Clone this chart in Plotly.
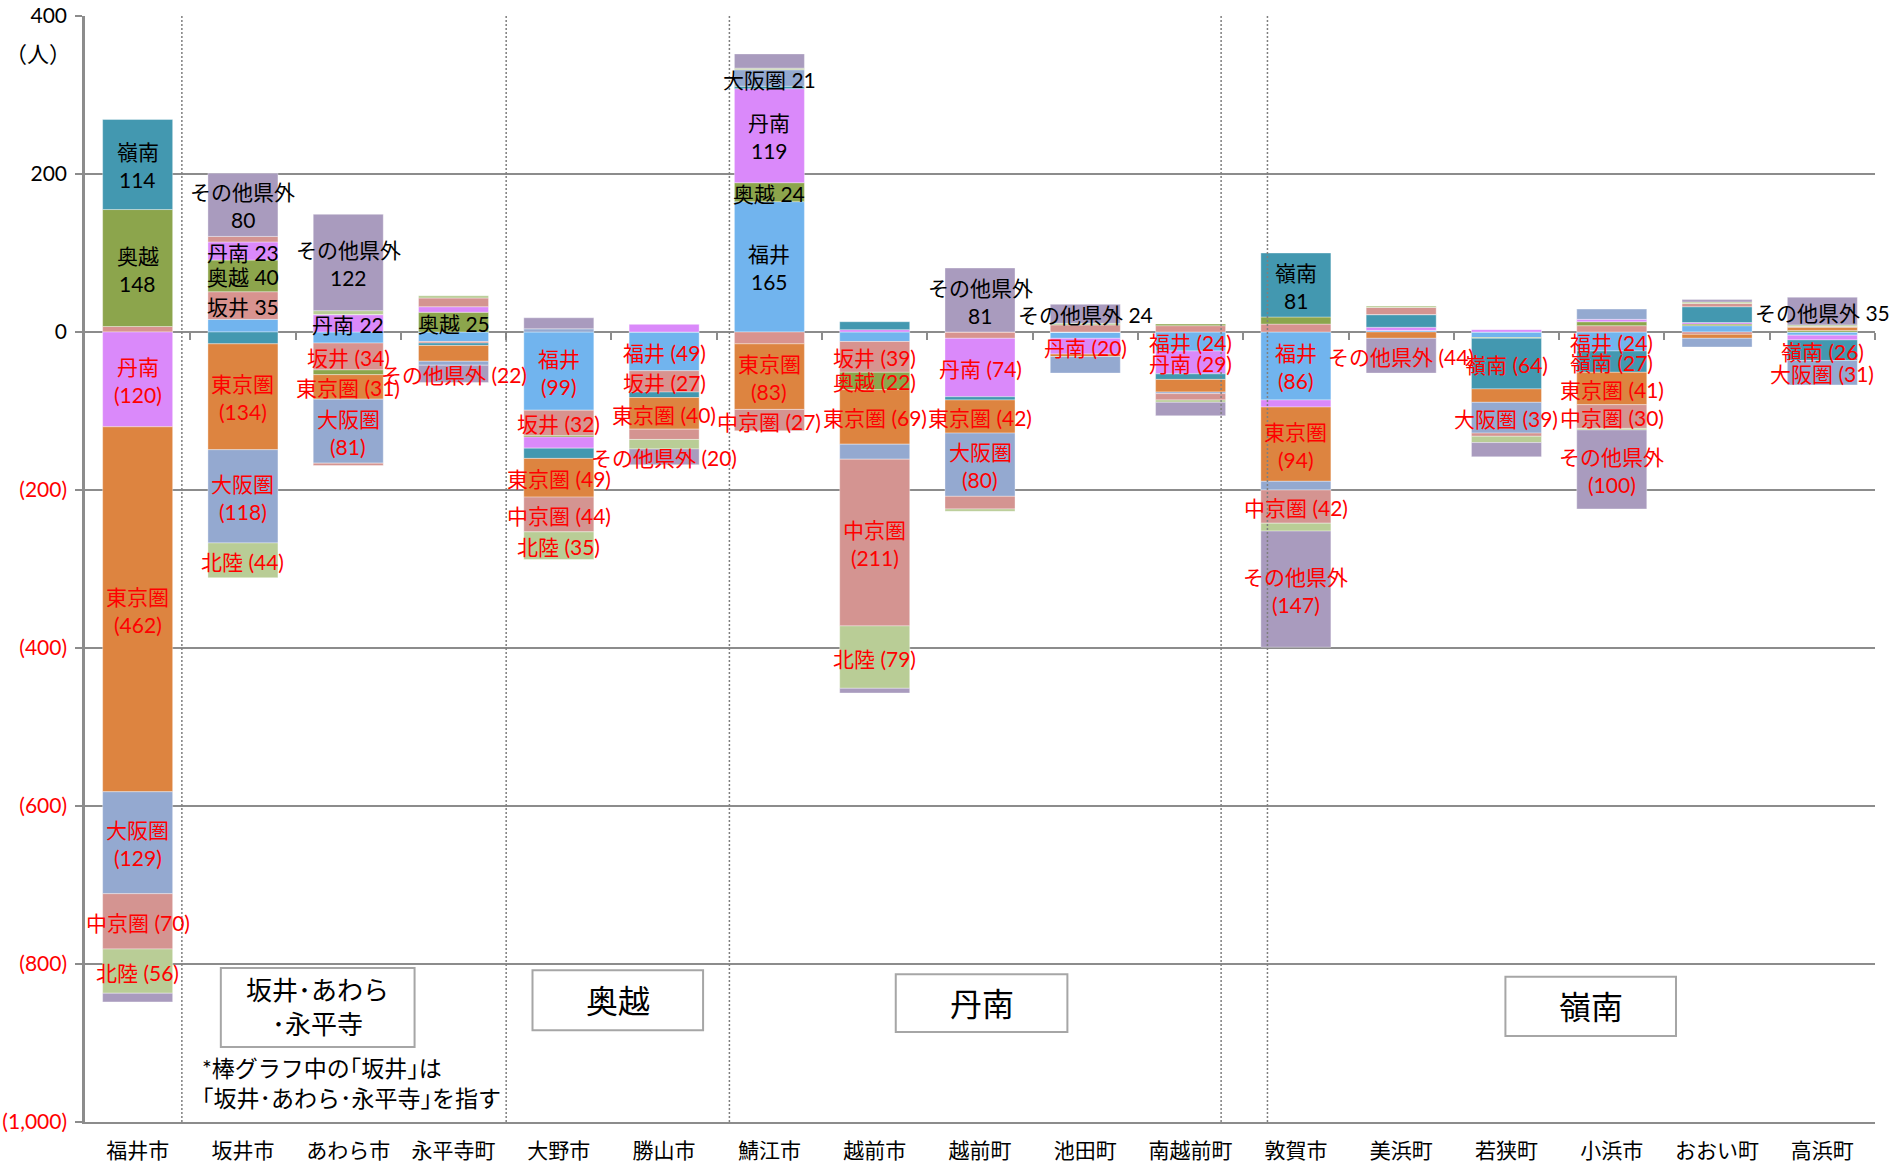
import plotly.graph_objects as go

# ---------------- data ----------------
categories = ["福井市", "坂井市", "あわら市", "永平寺町", "大野市", "勝山市", "鯖江市", "越前市",
              "越前町", "池田町", "南越前町", "敦賀市", "美浜町", "若狭町", "小浜市", "おおい町", "高浜町"]

series_names = ["福井", "坂井", "奥越", "丹南", "嶺南", "東京圏", "大阪圏", "中京圏", "北陸", "その他県外"]

fukui    = [0, 16, -14, -12, -99, -49, 165, -12, 0, -8, -24, -86, 2, -7, -24, 8, -4]
sakai    = [7, 35, -34, -2, -32, -27, -15, -39, -8, 0, 8, 10, 0, 0, 8, -3, 0]
okuetsu  = [148, 40, -6, 25, -2, 0, 24, -22, 0, 0, 2, 9, 0, -1, 5, 2, 2]
tannan   = [-120, 23, 22, 7, -14, 10, 119, 3, -74, -20, -29, -9, 4, 3, 3, 2, -6]
reinan   = [114, -15, 0, -3, -13, -7, 3, 10, -4, 0, -7, 81, 16, -64, -27, 20, -26]
tokyo    = [-462, -134, -31, -20, -49, -40, -83, -69, -42, -3, -16, -94, -8, -17, -41, -5, 4]
osaka    = [-129, -118, -81, -5, 4, 0, 21, -19, -80, -21, -2, -11, 0, -39, 13, -11, -31]
chukyo   = [-70, 7, -3, 11, -44, -13, -27, -211, -16, 9, -8, -42, 9, -4, -30, 4, 1]
hokuriku = [-56, -44, 5, 3, -35, -12, 2, -79, -3, 2, -3, -10, 2, -8, -2, 2, 2]
sonota   = [-11, 80, 122, -22, 14, -20, 18, -6, 81, 24, -17, -147, -44, -18, -100, 3, 35]

series_values = [fukui, sakai, okuetsu, tannan, reinan, tokyo, osaka, chukyo, hokuriku, sonota]

y_tick_values = [-1000, -800, -600, -400, -200, 0, 200, 400]
y_tick_labels = ["(1,000)", "(800)", "(600)", "(400)", "(200)", "0", "200", "400"]

# labelled segments: (category index, series name, lines)
labels = [
    (0, "嶺南", 2), (0, "奥越", 2), (0, "丹南", 2), (0, "東京圏", 2), (0, "大阪圏", 2), (0, "中京圏", 1), (0, "北陸", 1),
    (1, "その他県外", 2), (1, "丹南", 1), (1, "奥越", 1), (1, "坂井", 1), (1, "東京圏", 2), (1, "大阪圏", 2), (1, "北陸", 1),
    (2, "その他県外", 2), (2, "丹南", 1), (2, "坂井", 1), (2, "東京圏", 1), (2, "大阪圏", 2),
    (3, "奥越", 1), (3, "その他県外", 1),
    (4, "福井", 2), (4, "坂井", 1), (4, "東京圏", 1), (4, "中京圏", 1), (4, "北陸", 1),
    (5, "福井", 1), (5, "坂井", 1), (5, "東京圏", 1), (5, "その他県外", 1),
    (6, "大阪圏", 1), (6, "丹南", 2), (6, "奥越", 1), (6, "福井", 2), (6, "東京圏", 2), (6, "中京圏", 1),
    (7, "坂井", 1), (7, "奥越", 1), (7, "東京圏", 1), (7, "中京圏", 2), (7, "北陸", 1),
    (8, "その他県外", 2), (8, "丹南", 1), (8, "東京圏", 1), (8, "大阪圏", 2),
    (9, "その他県外", 1), (9, "丹南", 1),
    (10, "福井", 1), (10, "丹南", 1),
    (11, "嶺南", 2), (11, "福井", 2), (11, "東京圏", 2), (11, "中京圏", 1), (11, "その他県外", 2),
    (12, "その他県外", 1),
    (13, "嶺南", 1), (13, "大阪圏", 1),
    (14, "福井", 1), (14, "嶺南", 1), (14, "東京圏", 1), (14, "中京圏", 1), (14, "その他県外", 2),
    (16, "その他県外", 1), (16, "嶺南", 1), (16, "大阪圏", 1),
]

region_boxes = [("坂井･あわら<br>･永平寺", 0.79, 2.63, -805, -905, 26),
                ("奥越", 3.75, 5.37, -808, -884, 32),
                ("丹南", 7.20, 8.83, -813, -886, 32),
                ("嶺南", 12.99, 14.61, -816, -891, 32)]
note_text = "*棒グラフ中の｢坂井｣は<br>｢坂井･あわら･永平寺｣を指す"
separators = [0.42, 3.5, 5.62, 10.29, 10.73]

# ---------------- style ----------------
colors = ["#71B4EE", "#D8938F", "#8CA54C", "#DA89FA", "#4398B0",
          "#DD8440", "#94A9D0", "#D49491", "#B9CD96", "#A99BBE"]
FONT = "Lato, 'Noto Sans CJK JP', sans-serif"
GRID = "#8C8C8C"
RED = "#FF0000"

xs = list(range(len(categories)))
fig = go.Figure()
for name, vals, col in zip(series_names, series_values, colors):
    fig.add_trace(go.Bar(x=xs, y=vals, name=name, width=0.665,
                         marker=dict(color=col, line=dict(color="rgba(255,255,255,0.6)", width=0.6)),
                         showlegend=False, hoverinfo="name+y"))

# dummy trace carrying the category-boundary tick axis at y = 0
fig.add_trace(go.Scatter(x=[None], y=[None], xaxis="x2", yaxis="y", showlegend=False, hoverinfo="skip"))

# segment centres (relative stacking, same as plotly)
centers = {}
for i in xs:
    pos, neg = 0, 0
    for name, vals in zip(series_names, series_values):
        v = vals[i]
        if v >= 0:
            centers[(i, name)] = pos + v / 2
            pos += v
        else:
            centers[(i, name)] = neg + v / 2
            neg += v

annotations = []
for (i, name, lines) in labels:
    v = series_values[series_names.index(name)][i]
    num = str(v) if v >= 0 else f"({-v})"
    col = "#000000" if v >= 0 else RED
    yc = centers[(i, name)]
    if lines == 1:
        parts = [(f"{name} {num}", -1)]
    else:
        parts = [(name, 13), (num, -15)]
    for txt, ys in parts:
        annotations.append(dict(x=i, y=yc, xref="x", yref="y", text=txt, showarrow=False,
                                xanchor="center", yanchor="middle", yshift=ys,
                                font=dict(family=FONT, size=21, color=col)))

shapes = []
for sx in separators:
    shapes.append(dict(type="line", xref="x", yref="paper", x0=sx, x1=sx, y0=0, y1=1,
                       line=dict(color="#7F7F7F", width=1.5, dash="2px,2px"), layer="above"))
for txt, x0, x1, y0, y1, fs in region_boxes:
    shapes.append(dict(type="rect", xref="x", yref="y", x0=x0, x1=x1, y0=y0, y1=y1,
                       line=dict(color="#A6A6A6", width=2), fillcolor="white", layer="above"))
    annotations.append(dict(x=(x0 + x1) / 2, y=(y0 + y1) / 2, xref="x", yref="y", text=txt,
                            showarrow=False, xanchor="center", yanchor="middle",
                            font=dict(family=FONT, size=fs, color="#000000")))

annotations.append(dict(x=0.59, y=-950, xref="x", yref="y", text=note_text, showarrow=False,
                        xanchor="left", yanchor="middle", align="left",
                        font=dict(family=FONT, size=23, color="#000000")))
annotations.append(dict(x=-0.026, y=0.966, xref="paper", yref="paper", text="（人）", showarrow=False,
                        xanchor="center", yanchor="middle", font=dict(family=FONT, size=22, color="#000000")))

ymin, ymax = y_tick_values[0], y_tick_values[-1]
tick_text = [t if v >= 0 else f"<span style='color:{RED}'>{t}</span>" for v, t in zip(y_tick_values, y_tick_labels)]

fig.update_layout(
    width=1895, height=1164,
    margin=dict(l=85, r=20, t=16, b=42, autoexpand=False),
    paper_bgcolor="white", plot_bgcolor="white",
    barmode="relative", bargap=0.335,
    font=dict(family=FONT, size=21, color="#000000"),
    xaxis=dict(range=[-0.5, len(categories) - 0.5], tickmode="array", tickvals=xs, ticktext=categories,
               showgrid=False, zeroline=False, showline=True, linecolor=GRID, linewidth=2, automargin=False,
               ticks="", ticklabelstandoff=9, tickfont=dict(family=FONT, size=21, color="#000000")),
    xaxis2=dict(overlaying="x", anchor="free", position=(0 - ymin) / (ymax - ymin),
                range=[-0.5, len(categories) - 0.5], tickmode="array",
                tickvals=[i + 0.5 for i in range(len(categories))], automargin=False,
                ticks="outside", ticklen=7, tickwidth=2, tickcolor=GRID,
                showticklabels=False, showgrid=False, zeroline=False, showline=False),
    yaxis=dict(range=[ymin, ymax], tickmode="array", tickvals=y_tick_values, ticktext=tick_text,
               showgrid=True, gridcolor=GRID, gridwidth=2, automargin=False,
               zeroline=True, zerolinecolor=GRID, zerolinewidth=2,
               showline=True, linecolor=GRID, linewidth=2.5,
               ticks="outside", ticklen=7, tickwidth=2, tickcolor=GRID, ticklabelstandoff=4,
               tickfont=dict(family=FONT, size=21, color="#000000")),
    shapes=shapes,
    annotations=annotations,
)

fig.write_html("out.html", config={"displayModeBar": False},
               post_script="document.body.style.margin='0';document.body.style.overflow='hidden';")
